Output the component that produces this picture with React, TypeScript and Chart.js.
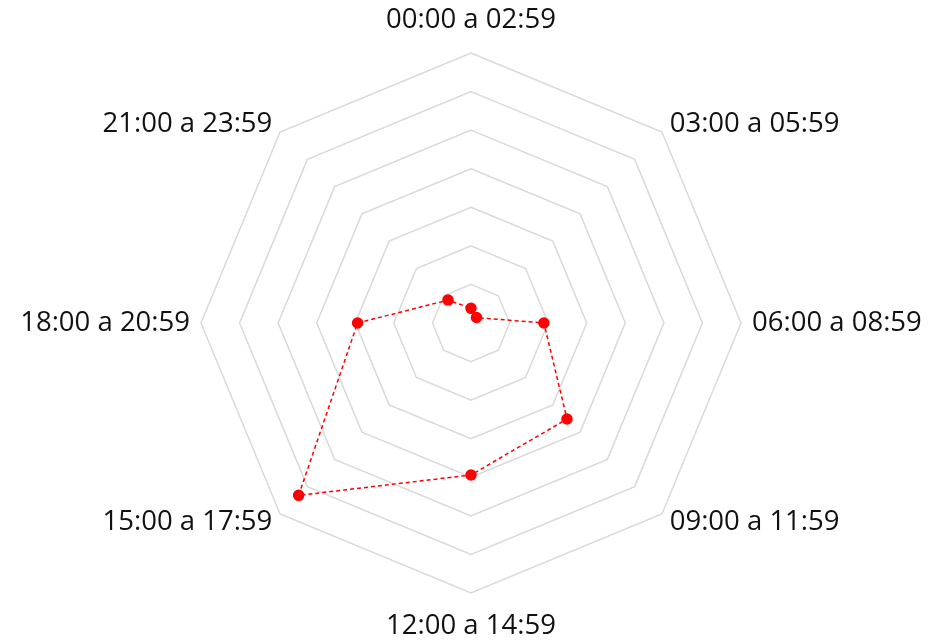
import React, { useEffect, useRef } from "react";
import { Chart, registerables } from "chart.js";

Chart.register(...registerables);

const labels = [
  "00:00 a 02:59",
  "03:00 a 05:59",
  "06:00 a 08:59",
  "09:00 a 11:59",
  "12:00 a 14:59",
  "15:00 a 17:59",
  "18:00 a 20:59",
  "21:00 a 23:59",
];
const values = [1.9, 1.0, 9.45, 17.6, 19.7, 31.6, 14.7, 4.2];
const scaleMax = 35;
const scaleStep = 5;

const labelFont = "27.5px 'Open Sans'";
const labelGap = 11;
const labelGapVertical = 33;

const outerLabels = {
  id: "outerLabels",
  afterDraw(chart: any) {
    const scale = chart.scales.r;
    const ctx = chart.ctx;
    ctx.save();
    ctx.font = labelFont;
    ctx.fillStyle = "#111111";
    ctx.textBaseline = "middle";
    const names: string[] = chart.data.labels;
    names.forEach((name, i) => {
      const p0 = scale.getPointPosition(i, scale.drawingArea);
      const dx = p0.x - scale.xCenter;
      const vertical = Math.abs(dx) < 1;
      const p = scale.getPointPosition(i, scale.drawingArea + (vertical ? labelGapVertical : labelGap));
      ctx.textAlign = vertical ? "center" : dx > 0 ? "left" : "right";
      ctx.fillText(name, p.x, p.y);
    });
    ctx.restore();
  },
};

export default function App() {
  const ref = useRef<HTMLCanvasElement | null>(null);
  useEffect(() => {
    if (!ref.current) return;
    const chart = new Chart(ref.current, {
      type: "radar",
      data: {
        labels,
        datasets: [
          {
            data: values,
            borderColor: "#ff0000",
            backgroundColor: "#ff0000",
            borderWidth: 1.5,
            borderDash: [4, 3],
            pointRadius: 5,
            pointBackgroundColor: "#ff0000",
            pointBorderColor: "#ff0000",
            fill: false,
          },
        ],
      },
      options: {
        animation: false,
        responsive: true,
        maintainAspectRatio: false,
        layout: { padding: { top: 53, bottom: 48, left: 0, right: 9 } },
        plugins: { legend: { display: false }, tooltip: { enabled: false } },
        scales: {
          r: {
            min: 0,
            max: scaleMax,
            ticks: { stepSize: scaleStep, display: false },
            grid: { color: "#d9d9d9", lineWidth: 1.5 },
            angleLines: { display: false },
            pointLabels: { display: false },
          },
        },
      },
      plugins: [outerLabels],
    });
    return () => chart.destroy();
  }, []);
  return (
    <div style={{ position: "absolute", left: 0, top: 0, width: 951, height: 642 }}>
      <canvas ref={ref} />
    </div>
  );
}
